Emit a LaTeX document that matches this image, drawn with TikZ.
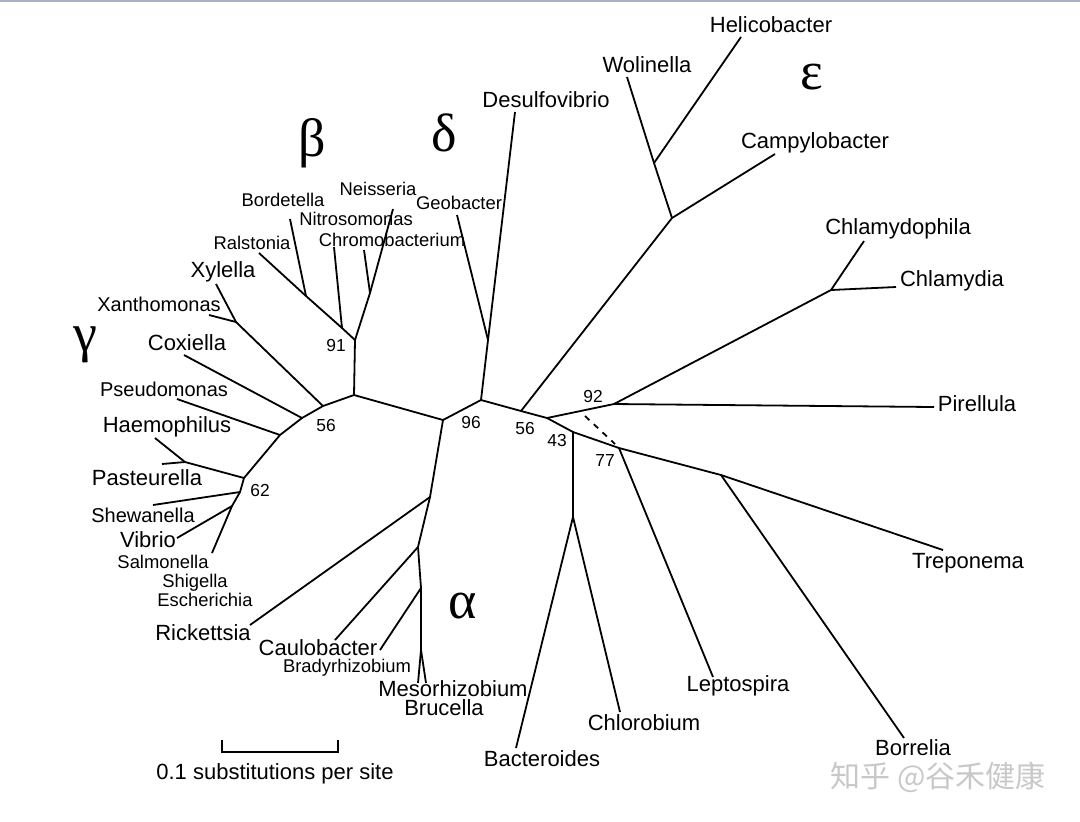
\documentclass[tikz,border=0pt]{standalone}
\usepackage{fontspec}
\setmainfont{Liberation Sans}
\newfontfamily\greekfont{Liberation Serif}
\newfontfamily\cjkfont{Noto Sans CJK SC}
\definecolor{topline}{RGB}{165,178,196}
\definecolor{wmark}{RGB}{200,200,200}
\begin{document}
\begin{tikzpicture}[x=0.5pt,y=-0.5pt,line width=0.9pt]
        \tikzset{big/.style={font=\fontsize{11}{13}\selectfont,inner sep=0pt}}
        \tikzset{mid/.style={font=\fontsize{10}{12}\selectfont,inner sep=0pt}}
        \tikzset{sml/.style={font=\fontsize{9.2}{11}\selectfont,inner sep=0pt}}
        \tikzset{boot/.style={font=\fontsize{8.7}{10}\selectfont,inner sep=0pt}}
        \tikzset{clade/.style={font=\greekfont\fontsize{27}{30}\selectfont,inner sep=0pt}}
        \useasboundingbox (0,0) rectangle (1080,821);
        \draw[topline,line width=1pt] (0,1) -- (1080,1);
        % inner nodes
        \coordinate (n96) at (443,420);
        \coordinate (nb) at (354,395);
        \coordinate (n91) at (355,340);
        \coordinate (nNeis) at (370,293);
        \coordinate (nNit) at (342,328);
        \coordinate (nBord) at (306,296);
        \coordinate (ng) at (323,406);
        \coordinate (nXy) at (236,322);
        \coordinate (nCox) at (302,418);
        \coordinate (nPse) at (280,435);
        \coordinate (n62) at (244,478);
        \coordinate (nHae) at (185,462);
        \coordinate (nShe) at (240,492);
        \coordinate (nVib) at (232,506);
        \coordinate (nd) at (481,400);
        \coordinate (nDG) at (488,340);
        \coordinate (n56) at (521,411);
        \coordinate (nEps) at (672,218);
        \coordinate (nWH) at (654,163);
        \coordinate (n92b) at (547,418);
        \coordinate (n92) at (614,404);
        \coordinate (nChl) at (831,290);
        \coordinate (n43) at (573,432);
        \coordinate (nBac) at (573,517);
        \coordinate (n77) at (619,448);
        \coordinate (nBor) at (721,475);
        \coordinate (nR) at (430,497);
        \coordinate (nCau) at (418,547);
        \coordinate (nBra) at (421,588);
        \coordinate (nMes) at (421,650);
        \coordinate (d1) at (585,416);
        \coordinate (d2) at (615,444);
        % tips
        \coordinate (desu) at (515,112);
        \coordinate (geob) at (457,215);
        \coordinate (neis) at (393,209);
        \coordinate (chro) at (364,250);
        \coordinate (nitr) at (334,247);
        \coordinate (bord) at (290,219);
        \coordinate (rals) at (259,253);
        \coordinate (xyle) at (216,284);
        \coordinate (xant) at (209,315);
        \coordinate (coxi) at (184,355);
        \coordinate (pseu) at (177,399);
        \coordinate (haem) at (155,438);
        \coordinate (past) at (162,464);
        \coordinate (shew) at (153,505);
        \coordinate (vibr) at (177,538);
        \coordinate (salm) at (212,553);
        \coordinate (rick) at (250,625);
        \coordinate (caul) at (335,640);
        \coordinate (brad) at (380,650);
        \coordinate (meso) at (418,683);
        \coordinate (bruc) at (426,683);
        \coordinate (bact) at (516,748);
        \coordinate (chlb) at (620,712);
        \coordinate (lept) at (713,677);
        \coordinate (borr) at (904,738);
        \coordinate (trep) at (943,550);
        \coordinate (pire) at (934,407);
        \coordinate (chla) at (896,287);
        \coordinate (chlp) at (864,241);
        \coordinate (camp) at (775,154);
        \coordinate (heli) at (741,37);
        \coordinate (woli) at (627,77);
        % branches
        \draw (nb) -- (n96) -- (nd) -- (n56) -- (n92b) -- (n43) -- (n77) -- (nBor) -- (trep);
        \draw (n96) -- (nR) -- (nCau) -- (nBra) -- (nMes) -- (meso);
        \draw (nMes) -- (bruc);
        \draw (nR) -- (rick);
        \draw (nCau) -- (caul);
        \draw (nBra) -- (brad);
        \draw (n43) -- (nBac) -- (bact);
        \draw (nBac) -- (chlb);
        \draw (n77) -- (lept);
        \draw (nBor) -- (borr);
        \draw (n92b) -- (n92) -- (nChl) -- (chlp);
        \draw (nChl) -- (chla);
        \draw (n92) -- (pire);
        \draw[dashed] (d1) -- (d2);
        \draw (n56) -- (nEps) -- (camp);
        \draw (nEps) -- (nWH) -- (woli);
        \draw (nWH) -- (heli);
        \draw (nd) -- (nDG) -- (desu);
        \draw (nDG) -- (geob);
        \draw (nb) -- (n91) -- (nNit) -- (nBord) -- (rals);
        \draw (n91) -- (nNeis) -- (neis);
        \draw (nNeis) -- (chro);
        \draw (nNit) -- (nitr);
        \draw (nBord) -- (bord);
        \draw (nb) -- (ng) -- (nCox) -- (nPse) -- (n62) -- (nShe) -- (nVib) -- (salm);
        \draw (ng) -- (nXy) -- (xyle);
        \draw (nXy) -- (xant);
        \draw (nCox) -- (coxi);
        \draw (nPse) -- (pseu);
        \draw (n62) -- (nHae) -- (haem);
        \draw (nHae) -- (past);
        \draw (nShe) -- (shew);
        \draw (nVib) -- (vibr);
        % names
        \node[big] (Desulfovibrio) at (546,100) {Desulfovibrio};
        \node[sml] (Geobacter) at (459,203) {Geobacter};
        \node[sml] (Neisseria) at (378,189) {Neisseria};
        \node[sml] (Nitrosomonas) at (356,219) {Nitrosomonas};
        \node[sml] (Chromobacterium) at (392,240) {Chromobacterium};
        \node[sml] (Bordetella) at (283,200) {Bordetella};
        \node[sml] (Ralstonia) at (252,243) {Ralstonia};
        \node[big] (Xylella) at (223,272) {Xylella};
        \node[mid] (Xanthomonas) at (159,304) {Xanthomonas};
        \node[big] (Coxiella) at (187,343) {Coxiella};
        \node[mid] (Pseudomonas) at (164,389) {Pseudomonas};
        \node[big] (Haemophilus) at (167,427) {Haemophilus};
        \node[big] (Pasteurella) at (147,478) {Pasteurella};
        \node[mid] (Shewanella) at (143,515) {Shewanella};
        \node[big] (Vibrio) at (148,540) {Vibrio};
        \node[sml] (Salmonella) at (163,562) {Salmonella};
        \node[sml] (Shigella) at (195,583) {Shigella};
        \node[sml] (Escherichia) at (205,600) {Escherichia};
        \node[big] (Rickettsia) at (203,633) {Rickettsia};
        \node[big] (Caulobacter) at (318,648) {Caulobacter};
        \node[sml] (Bradyrhizobium) at (347,668) {Bradyrhizobium};
        \node[big] (Mesorhizobium) at (453,689) {Mesorhizobium};
        \node[big] (Brucella) at (444,708) {Brucella};
        \node[big] (Bacteroides) at (542,759) {Bacteroides};
        \node[big] (Chlorobium) at (644,723) {Chlorobium};
        \node[big] (Leptospira) at (738,686) {Leptospira};
        \node[big] (Borrelia) at (913,748) {Borrelia};
        \node[big] (Treponema) at (968,563) {Treponema};
        \node[big] (Pirellula) at (977,404) {Pirellula};
        \node[big] (Chlamydia) at (952,281) {Chlamydia};
        \node[big] (Chlamydophila) at (898,229) {Chlamydophila};
        \node[big] (Campylobacter) at (815,143) {Campylobacter};
        \node[big] (Helicobacter) at (771,25) {Helicobacter};
        \node[big] (Wolinella) at (647,65) {Wolinella};
        % bootstrap values
        \node[boot] (b91) at (336,345) {91};
        \node[boot] (b56a) at (326,425) {56};
        \node[boot] (b62) at (260,490) {62};
        \node[boot] (b96) at (471,422) {96};
        \node[boot] (b56b) at (525,428) {56};
        \node[boot] (b43) at (557,440) {43};
        \node[boot] (b77) at (605,460) {77};
        \node[boot] (b92) at (593,396) {92};
        % clades
        \node[clade] (beta) at (312,143) {β};
        \node[clade] (delta) at (444,133) {δ};
        \node[clade] (eps) at (812,77) {ε};
        \node[clade] (gamma) at (85,345) {γ};
        \node[clade] (alpha) at (463,606) {α};
        % scale bar
        \coordinate (s1) at (222,740);
        \coordinate (s2) at (338,740);
        \draw (s1) -- ++(0,12) -| (s2);
        \node[big] (scale) at (275,774) {0.1 substitutions per site};
        \node[font=\cjkfont\fontsize{15}{17}\selectfont,text=wmark,inner sep=0pt] (wm) at (938,777) {知乎 @谷禾健康};
\end{tikzpicture}
\end{document}
